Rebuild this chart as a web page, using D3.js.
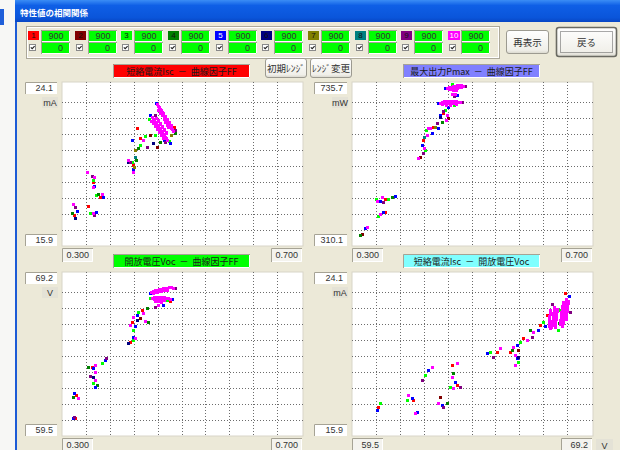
<!DOCTYPE html>
<html>
<head>
<meta charset="utf-8">
<script src="https://cdn.jsdelivr.net/npm/d3@7"></script>
<style>
html, body { margin: 0; padding: 0; overflow: hidden; background: #ece9d8; }
svg { display: block; }
</style>
</head>
<body>
<svg id="win" width="620" height="450"></svg>
<script>
// ---- channel settings ----
const seriesNames = ["1", "2", "3", "4", "5", "6", "7", "8", "9", "10"];
const seriesColors = ["#ff0000", "#800000", "#00ff00", "#008000", "#0000ff",
                      "#000080", "#808000", "#008080", "#800080", "#ff00ff"];
const seriesTextColors = ["#111", "#111", "#111", "#111", "#fff", "#111", "#111", "#111", "#111", "#fff"];
const upperLimits = [900, 900, 900, 900, 900, 900, 900, 900, 900, 900];
const lowerLimits = [0, 0, 0, 0, 0, 0, 0, 0, 0, 0];

// ---- axis ranges ----
const ffRange = [0.300, 0.700];
const iscRange = [15.9, 24.1];
const pmaxRange = [310.1, 735.7];
const vocRange = [59.5, 69.2];

// ---- measurements: [x, y, channel] ----
// Isc (mA) against FF
const iscFfPoints = [
  [0.424,21.81,1],[0.416,21.22,5],[0.429,20.97,3],[0.441,20.87,9],[0.451,21.07,6],[0.446,21.47,2],
  [0.434,21.22,10],[0.421,20.72,7],[0.426,20.82,4],[0.410,20.22,10],[0.416,20.12,3],[0.418,19.97,1],
  [0.421,20.37,8],[0.418,19.73,5],[0.418,19.58,10],[0.458,20.87,2],[0.463,21.12,4],[0.479,21.07,5],
  [0.413,20.12,9],[0.429,21.32,1],[0.438,21.42,3],[0.423,20.22,4],[0.410,20.12,6],[0.420,19.83,7],
  [0.446,22.46,5],[0.454,21.47,3],[0.481,21.47,7],[0.488,21.57,4],[0.455,22.46,9],[0.470,21.22,5],
  [0.477,21.17,3],[0.487,21.71,9],[0.456,23.06,5],[0.486,21.86,1],[0.444,22.26,3],[0.471,21.12,9],
  [0.341,19.58,10],[0.350,19.38,9],[0.353,19.33,10],[0.351,19.18,3],[0.351,19.08,1],[0.353,18.88,5],
  [0.351,18.83,10],[0.360,18.48,4],[0.366,18.48,10],[0.368,18.33,5],[0.363,18.33,1],[0.356,18.43,3],
  [0.318,17.99,10],[0.322,17.84,9],[0.325,17.64,5],[0.320,17.44,1],[0.322,17.29,6],[0.317,17.54,4],
  [0.343,17.89,1],[0.346,17.54,3],[0.351,17.54,10],[0.356,17.59,5],[0.353,17.44,9],
  // upper cluster
  [0.458,23.01,10],[0.459,22.91,10],[0.461,22.86,10],[0.463,22.76,10],[0.464,22.66,10],[0.466,22.61,10],
  [0.468,22.51,10],[0.469,22.41,10],[0.471,22.31,10],[0.473,22.26,10],[0.474,22.16,10],[0.476,22.06,10],
  [0.478,22.01,10],[0.479,21.91,10],[0.481,21.81,10],[0.483,21.76,10],[0.484,21.66,10],
  [0.464,22.71,10],[0.468,22.56,10],[0.471,22.41,10],[0.474,22.26,10],[0.478,22.11,10],[0.481,21.96,10],
  [0.460,22.71,10],[0.463,22.56,10],[0.466,22.46,10],[0.469,22.26,10],[0.471,22.11,10],[0.474,21.96,10],
  [0.476,21.86,10],
  // lower cluster
  [0.449,22.36,10],[0.451,22.26,10],[0.453,22.21,10],[0.454,22.11,10],[0.456,22.06,10],[0.458,21.96,10],
  [0.459,21.91,10],[0.461,21.81,10],[0.463,21.76,10],[0.464,21.66,10],[0.466,21.61,10],[0.468,21.52,10],
  [0.469,21.47,10],[0.471,21.37,10],[0.473,21.32,10],[0.474,21.22,10],
  [0.456,22.31,10],[0.459,22.16,10],[0.463,22.01,10],[0.466,21.86,10],[0.469,21.71,10],[0.473,21.57,10],
  [0.448,22.16,10],[0.451,22.06,10],[0.454,21.91,10],[0.458,21.76,10],[0.461,21.61,10],[0.464,21.47,10],
  [0.468,21.32,10],[0.459,22.21,10],[0.463,22.06,10],[0.466,21.91,10],[0.469,21.76,10],[0.473,21.61,10]
];

// Pmax (mW) against FF
const pmaxFfPoints = [
  [0.458,720.2,10],[0.461,722.8,10],[0.464,722.8,10],[0.468,725.4,10],[0.471,725.4,10],[0.474,728.0,10],
  [0.478,728.0,10],[0.481,728.0,10],[0.484,725.4,10],[0.461,717.6,10],[0.464,717.6,10],[0.468,720.2,10],
  [0.471,720.2,10],[0.474,720.2,10],[0.478,722.8,10],[0.481,722.8,10],[0.468,715.1,10],[0.473,715.1,10],
  [0.455,720.2,5],[0.487,725.4,9],[0.466,730.6,3],
  [0.466,704.8,10],[0.471,704.8,10],[0.469,699.6,9],[0.474,702.2,5],
  [0.446,681.5,10],[0.449,684.1,10],[0.453,686.7,10],[0.456,686.7,10],[0.459,686.7,10],[0.463,686.7,10],
  [0.466,686.7,10],[0.469,686.7,10],[0.473,686.7,10],[0.476,684.1,10],[0.479,684.1,10],[0.449,679.0,10],
  [0.453,681.5,10],[0.456,681.5,10],[0.459,681.5,10],[0.463,681.5,10],[0.466,681.5,10],[0.469,681.5,10],
  [0.473,679.0,10],[0.456,676.4,10],[0.463,676.4,10],
  [0.443,681.5,5],[0.483,684.1,9],[0.470,676.4,3],
  [0.459,671.2,5],[0.454,663.5,3],[0.451,655.7,1],[0.458,650.6,10],[0.446,645.4,6],[0.459,642.9,2],
  [0.456,637.7,10],[0.449,632.5,4],[0.441,630.0,9],[0.434,619.6,1],[0.443,617.1,5],[0.426,617.1,10],
  [0.423,611.9,3],[0.433,604.2,5],[0.424,599.0,10],[0.420,593.9,8],[0.418,586.1,1],[0.416,573.2,5],
  [0.420,565.5,10],[0.421,560.3,3],[0.418,552.6,9],[0.413,542.3,2],[0.410,539.7,10],[0.429,617.1,10],
  [0.438,619.6,7],[0.451,661.0,9],[0.446,650.6,5],
  [0.350,436.5,10],[0.346,426.2,5],[0.355,431.4,1],[0.360,431.4,3],[0.366,436.5,4],[0.371,439.1,5],
  [0.351,423.6,9],[0.341,426.2,10],[0.340,431.4,3],[0.346,392.7,10],[0.351,397.9,5],[0.355,397.9,1],
  [0.343,387.5,3],[0.317,341.1,2],[0.322,356.6,5],[0.325,359.0,10],[0.313,338.5,4]
];

// Voc (V) against FF
const vocFfPoints = [
  [0.448,68.02,10],[0.451,68.08,10],[0.454,68.14,10],[0.458,68.14,10],[0.461,68.19,10],[0.464,68.19,10],
  [0.468,68.25,10],[0.471,68.25,10],[0.474,68.25,10],[0.478,68.31,10],[0.481,68.31,10],[0.484,68.25,10],
  [0.451,67.96,10],[0.454,68.02,10],[0.458,68.02,10],[0.461,68.08,10],[0.464,68.08,10],[0.468,68.14,10],
  [0.471,68.14,10],[0.474,68.14,10],
  [0.449,67.66,10],[0.453,67.72,10],[0.456,67.72,10],[0.459,67.72,10],[0.463,67.72,10],[0.466,67.72,10],
  [0.469,67.72,10],[0.473,67.66,10],[0.476,67.66,10],[0.479,67.60,10],[0.453,67.60,10],[0.456,67.60,10],
  [0.459,67.60,10],[0.463,67.60,10],[0.466,67.54,10],[0.469,67.54,10],[0.454,67.48,10],[0.459,67.48,10],
  [0.464,67.43,10],
  [0.446,67.96,5],[0.487,68.25,9],[0.446,67.66,3],[0.483,67.60,5],
  [0.468,67.25,5],[0.474,67.54,3],[0.479,67.48,1],[0.459,67.25,10],[0.454,67.13,9],[0.441,67.07,4],
  [0.433,66.95,1],[0.434,66.77,10],[0.426,66.83,3],[0.424,66.66,5],[0.418,66.54,10],[0.429,66.48,2],
  [0.416,66.24,1],[0.424,66.36,6],[0.413,66.07,10],[0.421,66.01,5],[0.418,65.77,3],[0.438,66.30,10],
  [0.443,66.24,4],[0.418,65.36,5],[0.421,65.30,10],[0.418,65.18,3],[0.413,65.06,1],[0.410,65.00,6],
  [0.373,64.11,9],[0.371,63.99,5],[0.366,63.82,3],[0.355,63.70,10],[0.350,63.58,1],[0.351,63.52,5],
  [0.343,63.58,4],[0.355,63.28,10],[0.346,63.05,9],[0.351,62.99,6],[0.355,62.81,10],[0.351,62.63,3],
  [0.358,62.51,4],[0.355,62.40,5],
  [0.320,62.04,5],[0.323,61.92,1],[0.327,61.75,10],[0.318,61.81,4],
  [0.320,60.62,9],[0.318,60.56,5],[0.322,60.56,1]
];

// Isc (mA) against Voc (V)
const iscVocPoints = [
  // right cluster
  [68.11,22.75,10],[68.07,22.55,10],[68.07,22.35,10],[68.03,22.15,10],[68.03,21.95,10],[67.99,21.75,10],
  [67.99,21.55,10],[67.95,21.40,10],[67.99,22.60,10],[67.95,22.40,10],[67.95,22.20,10],[67.91,22.00,10],
  [67.91,21.80,10],[67.87,21.60,10],[68.19,22.65,10],[68.15,22.45,10],[68.15,22.25,10],[68.11,22.05,10],
  [68.11,21.85,10],
  [68.11,22.65,10],[68.07,22.45,10],[68.03,22.25,10],[68.03,22.05,10],[67.99,21.85,10],[67.99,21.65,10],
  [67.95,21.50,10],[67.99,22.50,10],[67.95,22.30,10],[67.91,22.10,10],[67.91,21.90,10],[67.87,21.70,10],
  [67.87,21.50,10],[68.19,22.55,10],[68.15,22.35,10],[68.15,22.15,10],[68.11,21.95,10],[68.11,21.75,10],
  // left cluster
  [67.63,22.35,10],[67.63,22.15,10],[67.59,21.95,10],[67.59,21.75,10],[67.55,21.55,10],[67.51,21.35,10],
  [67.47,22.20,10],[67.47,22.00,10],[67.43,21.80,10],[67.43,21.60,10],[67.43,21.40,10],[67.75,22.25,10],
  [67.71,22.05,10],[67.71,21.85,10],[67.67,21.65,10],[67.67,21.45,10],
  [67.63,22.25,10],[67.59,22.05,10],[67.59,21.85,10],[67.55,21.65,10],[67.55,21.45,10],[67.47,22.10,10],
  [67.43,21.90,10],[67.43,21.70,10],[67.43,21.50,10],[67.47,21.30,10],[67.75,22.15,10],[67.71,21.95,10],
  [67.71,21.75,10],[67.67,21.55,10],[67.67,21.35,10],
  [68.07,23.05,1],[68.23,22.90,5],[67.83,22.20,3],[68.27,22.10,9],[67.35,21.95,1],[67.79,21.20,3],
  [67.27,21.40,5],[67.83,21.55,4],[67.55,22.50,9],
  [67.19,21.60,3],[67.07,21.45,1],[66.99,21.20,5],[66.79,21.10,10],[66.66,21.20,4],[66.75,20.85,9],
  [66.54,20.70,10],[66.38,20.80,1],[66.26,20.60,3],[66.14,20.45,5],[65.98,20.35,10],[66.18,20.20,2],
  [65.94,20.20,4],[65.46,20.30,10],[65.34,20.10,1],[65.05,20.10,3],[64.93,20.05,5],[65.18,19.85,9],
  [66.06,19.95,10],[66.18,19.85,6],[65.86,20.10,1],[66.14,19.80,5],[66.18,19.60,3],[66.06,19.45,10],
  [63.73,19.55,10],[63.53,19.45,1],[62.72,19.35,10],[62.56,19.20,5],[62.44,18.95,3],[62.32,18.70,9],
  [63.57,19.05,4],[63.53,18.85,10],[63.65,18.60,5],[63.73,18.45,1],[63.85,18.35,9],[63.57,18.30,10],
  [63.44,18.35,3],
  [61.75,17.95,10],[61.92,17.80,5],[61.96,17.70,1],[61.71,17.70,3],[63.04,17.85,2],[62.96,17.55,10],
  [63.12,17.45,5],[63.16,17.35,9],[63.32,17.55,4],[62.12,17.10,5],[62.04,17.05,10],
  [60.63,17.55,3],[60.55,17.35,1],[60.51,17.20,5]
];

// ---- panel definitions ----
const charts = [
  { title: "短絡電流Isc  －  曲線因子FF", fill: "#ff0000", points: iscFfPoints,
    xDomain: ffRange, yDomain: iscRange, xLabels: ["0.300", "0.700"], yLabels: ["24.1", "15.9"],
    unit: "mA", side: "left", row: 0 },
  { title: "最大出力Pmax  －  曲線因子FF", fill: "#8080ff", points: pmaxFfPoints,
    xDomain: ffRange, yDomain: pmaxRange, xLabels: ["0.300", "0.700"], yLabels: ["735.7", "310.1"],
    unit: "mW", side: "right", row: 0 },
  { title: "開放電圧Voc  －  曲線因子FF", fill: "#00ff00", points: vocFfPoints,
    xDomain: ffRange, yDomain: vocRange, xLabels: ["0.300", "0.700"], yLabels: ["69.2", "59.5"],
    unit: "V", side: "left", row: 1 },
  { title: "短絡電流Isc  －  開放電圧Voc", fill: "#80ffff", points: iscVocPoints,
    xDomain: vocRange, yDomain: iscRange, xLabels: ["59.5", "69.2"], yLabels: ["24.1", "15.9"],
    unit: "mA", xUnit: "V", side: "right", row: 1 }
];

const W = 620, H = 450;
const FONT_JP = "'Noto Sans CJK JP', 'Noto Sans CJK SC', sans-serif";
const FONT_NUM = "'Liberation Sans', Arial, sans-serif";
const svg = d3.select("#win");
const defs = svg.append("defs");

function sunken(g, x, y, w, h, fill) {
  g.append("rect").attr("x", x).attr("y", y).attr("width", w).attr("height", h).attr("fill", fill);
  g.append("path").attr("d", `M${x + 0.5},${y + h}V${y + 0.5}H${x + w}`)
    .attr("fill", "none").attr("stroke", "#a6a395");
  g.append("path").attr("d", `M${x + w - 0.5},${y + 1}V${y + h - 0.5}H${x + 1}`)
    .attr("fill", "none").attr("stroke", "#ffffff");
}

function label(g, x, y, text, opts = {}) {
  return g.append("text").attr("x", x).attr("y", y)
    .attr("text-anchor", opts.anchor || "middle")
    .attr("dominant-baseline", "central")
    .attr("font-family", opts.font || FONT_NUM)
    .attr("font-size", opts.size || 9)
    .attr("font-weight", opts.weight || "normal")
    .attr("fill", opts.color || "#222")
    .style("white-space", "pre")
    .text(text);
}

const btnGrad = defs.append("linearGradient").attr("id", "btn").attr("x1", 0).attr("y1", 0).attr("x2", 0).attr("y2", 1);
btnGrad.append("stop").attr("offset", "0%").attr("stop-color", "#ffffff");
btnGrad.append("stop").attr("offset", "85%").attr("stop-color", "#f0efe9");
btnGrad.append("stop").attr("offset", "100%").attr("stop-color", "#d8d6cc");

function button(g, x, y, w, h, text, isDefault) {
  g.append("rect").attr("x", x + 0.5).attr("y", y + 0.5).attr("width", w - 1).attr("height", h - 1)
    .attr("rx", 2.5).attr("fill", "url(#btn)")
    .attr("stroke", isDefault ? "#6a6a62" : "#9c9a90").attr("stroke-width", isDefault ? 1.6 : 1);
  if (isDefault) {
    g.append("rect").attr("x", x + 4.5).attr("y", y + 4.5).attr("width", w - 9).attr("height", h - 9)
      .attr("fill", "none").attr("stroke", "#555").attr("stroke-dasharray", "1 1");
  }
  label(g, x + w / 2, y + h / 2, text, { font: FONT_JP, size: 9.5, color: "#333" });
}

// ---- desktop strip and window frame ----
svg.append("rect").attr("x", 0).attr("y", 0).attr("width", 15).attr("height", H).attr("fill", "#f7f7f5");
svg.append("rect").attr("x", 0).attr("y", 9).attr("width", 4).attr("height", 16).attr("fill", "#1f5fd9");
svg.append("rect").attr("x", 15).attr("y", 0).attr("width", 2).attr("height", H).attr("fill", "#1d5bd6");
svg.append("rect").attr("x", 17).attr("y", 22).attr("width", W - 17).attr("height", H - 22).attr("fill", "#ece9d8");

const tb = defs.append("linearGradient").attr("id", "tb").attr("x1", 0).attr("y1", 0).attr("x2", 0).attr("y2", 1);
tb.append("stop").attr("offset", "0%").attr("stop-color", "#3b8df5");
tb.append("stop").attr("offset", "25%").attr("stop-color", "#0f5fe6");
tb.append("stop").attr("offset", "80%").attr("stop-color", "#0a55da");
tb.append("stop").attr("offset", "100%").attr("stop-color", "#0846c4");
svg.append("rect").attr("x", 15).attr("y", 0).attr("width", W - 15).attr("height", 22).attr("fill", "url(#tb)");
label(svg, 20, 12, "特性値の相関関係", { anchor: "start", font: FONT_JP, size: 8.5, weight: "bold", color: "#ffffff" });

// ---- channel selector group ----
const grp = svg.append("g");
grp.append("rect").attr("x", 26.5).attr("y", 26.5).attr("width", 473).attr("height", 32)
  .attr("fill", "none").attr("stroke", "#aca899");
grp.append("rect").attr("x", 27.5).attr("y", 27.5).attr("width", 471).attr("height", 30)
  .attr("fill", "none").attr("stroke", "#ffffff");

const chanX = d3.scaleLinear().domain([0, 9]).range([28, 448]);
seriesNames.forEach((name, i) => {
  const bx = Math.round(chanX(i));
  const wBox = name.length > 1 ? 12 : 11;
  grp.append("rect").attr("x", bx).attr("y", 31).attr("width", wBox).attr("height", 9).attr("fill", seriesColors[i]);
  label(grp, bx + wBox / 2, 35.5, name, { size: 8, color: seriesTextColors[i] });
  // check box
  grp.append("rect").attr("x", bx + 1.5).attr("y", 44.5).attr("width", 6).attr("height", 6)
    .attr("fill", "#fff").attr("stroke", "#8a8a8a");
  grp.append("path").attr("d", `M${bx + 2.8},${47.3}l1.4,1.4l2.4,-2.6`)
    .attr("fill", "none").attr("stroke", "#222").attr("stroke-width", 1.1);
  // limit boxes
  const gx0 = bx + 13;
  sunken(grp, gx0, 30, 29, 12, "#00ff00");
  sunken(grp, gx0, 42, 29, 12, "#00ff00");
  label(grp, gx0 + 22.5, 36, String(upperLimits[i]), { anchor: "end", size: 9, color: "#333" });
  label(grp, gx0 + 22, 48, String(lowerLimits[i]), { anchor: "end", size: 9, color: "#333" });
});

button(svg, 506, 30, 43, 24, "再表示", false);
button(svg, 556, 27, 61, 30, "戻る", true);
button(svg, 265, 58, 42, 20, "初期ﾚﾝｼﾞ", false);
button(svg, 310, 58, 42, 20, "ﾚﾝｼﾞ変更", false);

// ---- scatter panels ----
charts.forEach(c => {
  const left = c.side === "left" ? 62 : 352;
  const top = c.row === 0 ? 82 : 272;
  const w = 241, h = 164;
  const bottom = top + h;
  const g = svg.append("g");

  // panel title
  const tx = left + 51;
  sunken(g, tx, top - 18, 137, 14, c.fill);
  label(g, tx + 68.5, top - 11, c.title, { font: FONT_JP, size: 9, color: "#1a1a1a" });

  // plot area
  g.append("rect").attr("x", left).attr("y", top).attr("width", w).attr("height", h)
    .attr("fill", "#ffffff").attr("stroke", "#d8d5c8");

  // dotted grid
  const gridX = d3.scaleLinear().domain([0, 10]).range([left, left + 239]);
  const gridY = d3.scaleLinear().domain([0, 10]).range([bottom, bottom - 160]);
  const divs = d3.range(1, 10);
  g.append("g").selectAll("line").data(divs).join("line")
    .attr("x1", d => Math.round(gridX(d)) + 0.5).attr("x2", d => Math.round(gridX(d)) + 0.5)
    .attr("y1", top).attr("y2", bottom)
    .attr("stroke", "#6c6c6c").attr("stroke-dasharray", "1 2");
  g.append("g").selectAll("line").data(divs).join("line")
    .attr("y1", d => Math.round(gridY(d)) + 0.5).attr("y2", d => Math.round(gridY(d)) + 0.5)
    .attr("x1", left).attr("x2", left + w)
    .attr("stroke", "#6c6c6c").attr("stroke-dasharray", "1 2");

  // scales
  const x = d3.scaleLinear().domain(c.xDomain).range([left, left + w]);
  const y = d3.scaleLinear().domain(c.yDomain).range([bottom, top]);

  // markers are snapped to whole pixels so dense clusters fill solidly
  const sorted = c.points.slice().sort((a, b) => a[2] - b[2]);
  g.append("g").attr("shape-rendering", "crispEdges")
    .selectAll("rect").data(sorted).join("rect")
    .attr("x", d => Math.round(x(d[0])) - 1).attr("y", d => Math.round(y(d[1])) - 1)
    .attr("width", 3).attr("height", 3)
    .attr("fill", d => seriesColors[d[2] - 1]);

  // range labels
  const yBoxX = c.side === "left" ? 25 : 314;
  const yBoxW = c.side === "left" ? 32 : 33;
  sunken(g, yBoxX, top, yBoxW, 12, "#ffffff");
  label(g, yBoxX + yBoxW - 4, top + 6, c.yLabels[0], { anchor: "end", color: "#333" });
  sunken(g, yBoxX, bottom - 12, yBoxW, 12, "#ffffff");
  label(g, yBoxX + yBoxW - 4, bottom - 6, c.yLabels[1], { anchor: "end", color: "#333" });

  const uX = c.side === "left" ? 42 : 332;
  g.append("rect").attr("x", uX).attr("y", top + 15).attr("width", 16).attr("height", 11).attr("fill", "#e4e2d6");
  label(g, uX + 8, top + 20.5, c.unit, { color: "#333" });

  sunken(g, left, bottom + 2, 31, 14, "#f4f3ee");
  label(g, left + 27, bottom + 9, c.xLabels[0], { anchor: "end", color: "#333" });
  sunken(g, left + w - 32, bottom + 2, 31, 14, "#f4f3ee");
  label(g, left + w - 5, bottom + 9, c.xLabels[1], { anchor: "end", color: "#333" });

  if (c.xUnit) {
    g.append("rect").attr("x", left + w + 3).attr("y", bottom + 3).attr("width", 17).attr("height", 13).attr("fill", "#e4e2d6");
    label(g, left + w + 11.5, bottom + 10, c.xUnit, { color: "#333" });
  }
});
</script>
</body>
</html>
